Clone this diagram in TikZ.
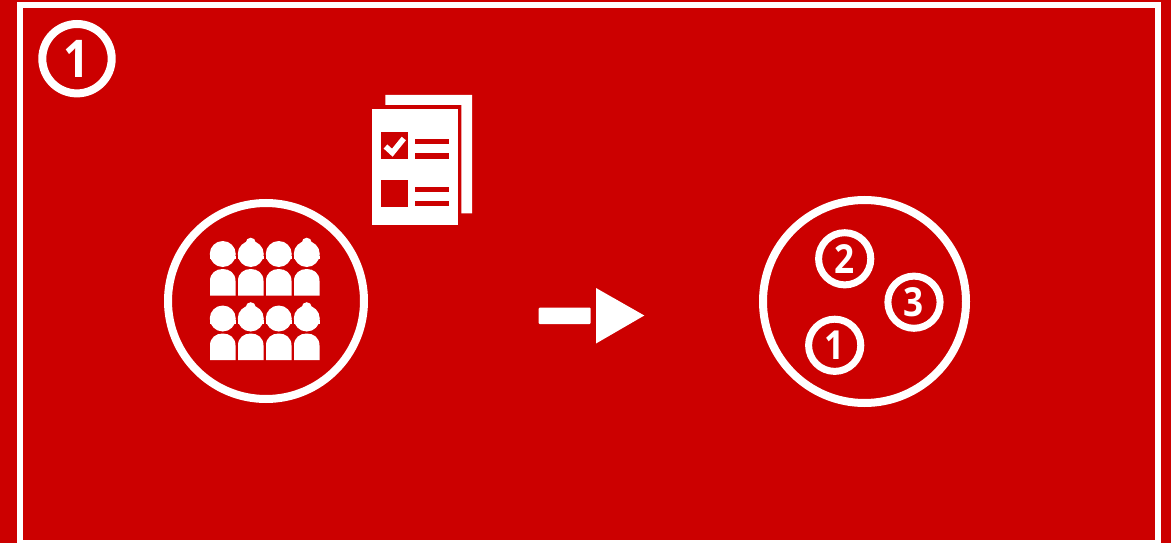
\documentclass[tikz,border=0pt]{standalone}
\usepackage{fontspec}
\setmainfont{Open Sans}
\newfontfamily\digitfont[FakeStretch=0.88]{Open Sans}
\definecolor{bgred}{HTML}{CC0000}
\begin{document}
\begin{tikzpicture}[
  x=1pt, y=-1pt,
  bigring/.style={circle, draw=white, line width=8pt, inner sep=0pt},
  numring/.style={circle, draw=white, line width=7pt, inner sep=0pt, minimum size=52.2pt,
    text=white, font=\digitfont\fontsize{40}{40}\selectfont\bfseries},
  sheet/.style={fill=white, draw=none},
  tick/.style={fill=bgred, draw=none}
]
  \useasboundingbox (0,0) rectangle (1171,543);
  \clip (0,0) rectangle (1171,543);
  \fill[bgred] (0,0) rectangle (1171,543);
  \draw[white, line width=6pt] (20.3,5.3) rectangle (1157.5,542.5);
  % Step number
  \node[numring, line width=8pt, minimum size=69.4pt, font=\digitfont\fontsize{52}{52}\selectfont\bfseries] (step) at (77,58.7) {1};
  % Crowd
  \node[bigring, minimum size=196pt] (crowd) at (266,301) {};
  \foreach \r in {0,64.5} {
    \foreach \x in {210,238,266,294} {
      \fill[white] (\x+12.75,254+\r) circle (13pt);
      \fill[white] (\x-0.5,255.5+\r) rectangle (\x+26,259+\r);
      \fill[white] (\x,295.7+\r) -- (\x,281+\r) .. controls (\x,273+\r) and (\x+6,269+\r) .. (\x+12.75,269+\r)
        .. controls (\x+19.5,269+\r) and (\x+25.5,273+\r) .. (\x+25.5,281+\r) -- (\x+25.5,295.7+\r) -- cycle;
    }
    \foreach \x in {238,294} {
      \fill[white] (\x+12.75,242.7+\r) circle (5pt);
    }
  }
  % Questionnaire
  \fill[sheet] (385.3,95) -- (472,95) -- (472,213.3) -- (461.3,213.3) -- (461.3,105) -- (385.3,105) -- cycle;
  \fill[sheet] (372,109) rectangle (458,225);
  \fill[tick] (381,132.3) rectangle (407.7,158.7);
  \fill[tick] (381,180.3) rectangle (407.7,206.7);
  \draw[white, line width=5.5pt] (385.5,146.5) -- (392.3,152.7) -- (403.8,138.5);
  \foreach \y in {138.7,153,186.7,200.7} {
    \fill[tick] (415,\y) rectangle (449,\y+5.5);
  }
  % Arrow
  \fill[white, rounded corners=1pt] (538.7,307.7) rectangle (590.7,324);
  \fill[white] (596,288) -- (644.3,315.5) -- (596,343.5) -- cycle;
  % Groups
  \node[bigring, minimum size=203pt] (groups) at (864.5,301.5) {};
  \node[numring] (two) at (844.7,258.8) {2};
  \node[numring] (three) at (914,302.2) {3};
  \node[numring] (one) at (834.7,345.3) {1};
\end{tikzpicture}
\end{document}
